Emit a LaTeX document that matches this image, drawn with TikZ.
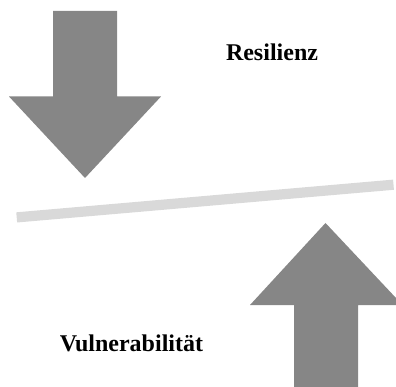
\documentclass[tikz,border=0pt]{standalone}
\usepackage{fontspec}
\setmainfont{Liberation Serif}
\tikzset{
  bigarrow/.style={fill=arrowgray,draw=none},
  band/.style={draw=bandgray,line width=10.2pt,line cap=butt},
  lab/.style={font=\fontsize{24}{28}\selectfont\bfseries,text=black,inner sep=0pt,anchor=base}
}
\definecolor{arrowgray}{HTML}{868686}
\definecolor{bandgray}{HTML}{D9D9D9}
\begin{document}
\begin{tikzpicture}[x=1pt,y=-1pt]
\useasboundingbox (0,0) rectangle (396,387);
\fill[bigarrow] (53,11) -- (117,11) -- (117,96.5) -- (161,96.5) -- (85,178) -- (9,96.5) -- (53,96.5) -- cycle;
\fill[bigarrow] (294,387) -- (294,305) -- (250,305) -- (325.5,223) -- (396,298) -- (396,305) -- (358,305) -- (358,387) -- cycle;
\coordinate (bandL) at (16.7,217.4);
\coordinate (bandR) at (393.5,184.7);
\draw[band] (bandL) -- (bandR);
\node[lab] (res) at (272,61) {Resilienz};
\node[lab] (vul) at (131.5,351) {Vulnerabilität};
\end{tikzpicture}
\end{document}
